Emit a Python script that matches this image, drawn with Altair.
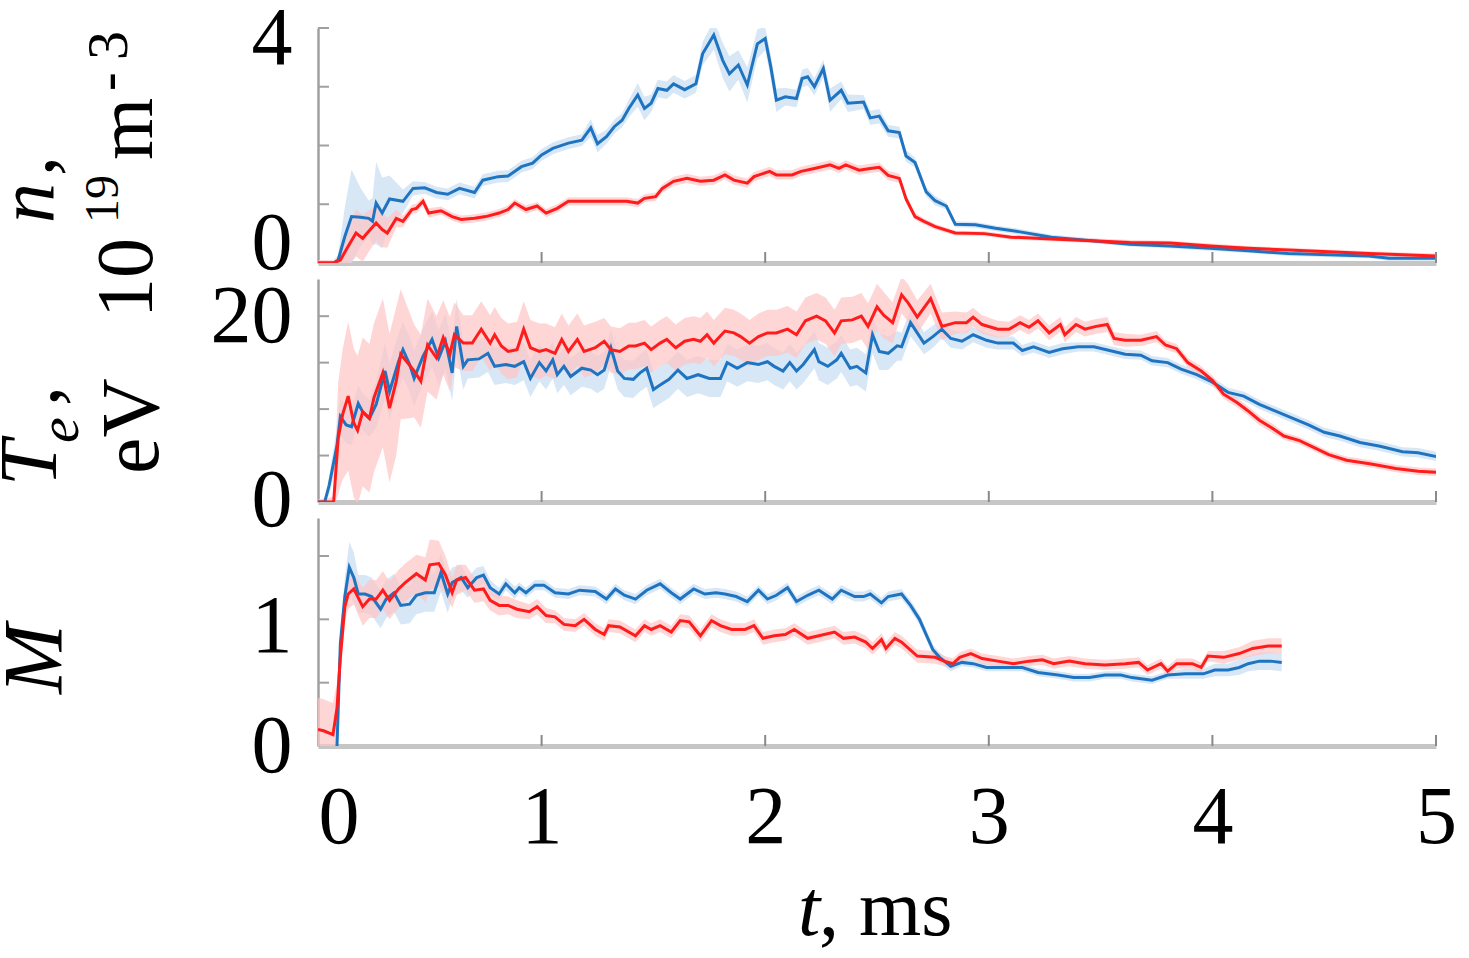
import altair as alt
import pandas as pd

FONT = "Liberation Serif"
BLUE = "#1f74c2"
RED = "#ff1c1c"
BLUE_BAND = "#c9dff3"
RED_BAND = "#ffc4c4"

X_TICKS = [1, 2, 3, 4, 5]
X_LABELS = [0, 1, 2, 3, 4, 5]

# ---------------- panel 1: density n (1e19 m^-3) ----------------
T_N_BLUE = [0, 0.07, 0.09, 0.12, 0.15, 0.19, 0.227, 0.244, 0.26, 0.287,
            0.32, 0.38, 0.425, 0.477, 0.53, 0.58, 0.633, 0.70, 0.737, 0.806,
            0.85, 0.91, 0.96, 1.0, 1.05, 1.12, 1.18, 1.22, 1.25, 1.29,
            1.325, 1.36, 1.39, 1.43, 1.46, 1.49, 1.52, 1.56, 1.59, 1.64,
            1.69, 1.72, 1.77, 1.81, 1.84, 1.88, 1.92, 1.965, 2.0, 2.025,
            2.05, 2.09, 2.14, 2.165, 2.19, 2.22, 2.26, 2.29, 2.34, 2.37,
            2.44, 2.47, 2.51, 2.55, 2.6, 2.63, 2.67, 2.72, 2.76, 2.81,
            2.85, 2.94, 3.03, 3.14, 3.28, 3.46, 3.63, 3.81, 3.99, 4.16,
            4.34, 4.52, 4.70, 4.79, 5.0]
N_BLUE = [0, 0, 0.05, 0.45, 0.79, 0.78, 0.76, 0.71, 1.02, 0.85,
          1.09, 1.05, 1.27, 1.28, 1.20, 1.17, 1.27, 1.20, 1.41, 1.47,
          1.48, 1.64, 1.70, 1.84, 1.95, 2.04, 2.09, 2.30, 2.03, 2.15,
          2.32, 2.43, 2.63, 2.86, 2.63, 2.72, 2.97, 2.94, 3.05, 2.95,
          3.05, 3.56, 3.88, 3.45, 3.22, 3.37, 3.03, 3.73, 3.82, 3.34,
          2.77, 2.83, 2.80, 3.14, 3.17, 3.00, 3.31, 2.77, 2.94, 2.72,
          2.74, 2.47, 2.50, 2.25, 2.22, 1.82, 1.71, 1.21, 1.06, 0.97,
          0.66, 0.65, 0.59, 0.53, 0.44, 0.38, 0.32, 0.29, 0.25, 0.21,
          0.16, 0.14, 0.12, 0.08, 0.08]
N_BLUE_ERR = [0, 0, 0.1, 0.5, 0.8, 0.5, 0.3, 0.4, 0.7, 0.6,
              0.4, 0.2, 0.12, 0.1, 0.1, 0.1, 0.1, 0.1, 0.1, 0.1,
              0.1, 0.1, 0.1, 0.1, 0.1, 0.1, 0.1, 0.15, 0.15, 0.12,
              0.12, 0.12, 0.15, 0.2, 0.2, 0.15, 0.15, 0.15, 0.15, 0.15,
              0.15, 0.2, 0.25, 0.3, 0.3, 0.25, 0.3, 0.25, 0.2, 0.2,
              0.2, 0.15, 0.15, 0.15, 0.15, 0.15, 0.15, 0.2, 0.15, 0.15,
              0.12, 0.12, 0.12, 0.1, 0.1, 0.1, 0.08, 0.08, 0.08, 0.06,
              0.05, 0.05, 0.05, 0.05, 0.04, 0.04, 0.04, 0.04, 0.04, 0.04,
              0.04, 0.04, 0.04, 0.04, 0.04]

T_N_RED = [0, 0.07, 0.1, 0.13, 0.17, 0.2, 0.227, 0.26, 0.287, 0.31,
           0.35, 0.38, 0.42, 0.44, 0.47, 0.495, 0.55, 0.6, 0.64, 0.70,
           0.75, 0.81, 0.85, 0.88, 0.93, 0.98, 1.02, 1.07, 1.12, 1.20,
           1.29, 1.38, 1.43, 1.46, 1.51, 1.54, 1.59, 1.65, 1.71, 1.77,
           1.82, 1.86, 1.92, 1.95, 2.02, 2.05, 2.12, 2.16, 2.22, 2.29,
           2.33, 2.36, 2.42, 2.47, 2.51, 2.55, 2.60, 2.63, 2.67, 2.71,
           2.76, 2.85, 2.98, 3.1, 3.28, 3.46, 3.63, 3.81, 3.99, 4.16,
           4.34, 4.52, 4.70, 5.0]
N_RED = [0, 0, 0.05, 0.25, 0.51, 0.42, 0.54, 0.68, 0.57, 0.51,
         0.76, 0.71, 0.91, 0.93, 1.05, 0.85, 0.89, 0.79, 0.74, 0.76,
         0.79, 0.85, 0.91, 1.02, 0.91, 0.97, 0.85, 0.93, 1.05, 1.05,
         1.05, 1.05, 1.02, 1.10, 1.13, 1.27, 1.39, 1.44, 1.39, 1.41,
         1.50, 1.41, 1.36, 1.47, 1.56, 1.50, 1.50, 1.56, 1.61, 1.67,
         1.61, 1.67, 1.58, 1.61, 1.63, 1.49, 1.44, 1.09, 0.79, 0.71,
         0.62, 0.51, 0.50, 0.44, 0.41, 0.38, 0.35, 0.34, 0.29, 0.25,
         0.22, 0.19, 0.16, 0.12]
N_RED_ERR = [0.05, 0.05, 0.1, 0.3, 0.4, 0.4, 0.35, 0.3, 0.3, 0.25,
             0.15, 0.1, 0.08, 0.08, 0.08, 0.08, 0.07, 0.07, 0.07, 0.07,
             0.07, 0.07, 0.07, 0.07, 0.07, 0.07, 0.07, 0.07, 0.07, 0.07,
             0.07, 0.07, 0.07, 0.07, 0.07, 0.07, 0.08, 0.08, 0.08, 0.08,
             0.08, 0.08, 0.08, 0.08, 0.08, 0.08, 0.08, 0.08, 0.08, 0.08,
             0.08, 0.08, 0.08, 0.08, 0.08, 0.08, 0.08, 0.07, 0.06, 0.05,
             0.05, 0.04, 0.04, 0.04, 0.04, 0.04, 0.04, 0.04, 0.04, 0.04,
             0.04, 0.04, 0.04, 0.04]

# ---------------- panel 2: electron temperature Te (eV) ----------------
T_TE_BLUE = [0, 0.03, 0.05, 0.085, 0.10, 0.126, 0.15, 0.18, 0.20, 0.23,
             0.26, 0.30, 0.32, 0.36, 0.38, 0.41, 0.43, 0.47, 0.51, 0.54,
             0.57, 0.60, 0.62, 0.65, 0.67, 0.72, 0.76, 0.79, 0.84, 0.88,
             0.92, 0.95, 0.99, 1.02, 1.05, 1.07, 1.10, 1.13, 1.18, 1.22,
             1.25, 1.28, 1.31, 1.34, 1.37, 1.41, 1.44, 1.47, 1.50, 1.53,
             1.57, 1.61, 1.65, 1.70, 1.75, 1.80, 1.83, 1.875, 1.92, 1.97,
             2.01, 2.04, 2.08, 2.11, 2.14, 2.17, 2.22, 2.24, 2.28, 2.32,
             2.34, 2.38, 2.41, 2.45, 2.48, 2.51, 2.55, 2.59, 2.61, 2.65,
             2.68, 2.71, 2.75, 2.79, 2.83, 2.88, 2.93, 2.99, 3.04, 3.11,
             3.15, 3.20, 3.27, 3.33, 3.40, 3.47, 3.54, 3.61, 3.68, 3.73,
             3.80, 3.86, 3.93, 4.0, 4.07, 4.14, 4.21, 4.28, 4.36, 4.43,
             4.50, 4.57, 4.66, 4.75, 4.85, 4.92, 5.0]
TE_BLUE = [0, 0, 1.8, 6.1, 9.2, 8.3, 8.1, 10.6, 9.7, 9.0,
           10.5, 14.1, 11.9, 15.1, 16.4, 14.8, 13.3, 15.7, 17.5, 15.5,
           17.3, 13.9, 18.9, 14.6, 15.3, 15.4, 16.0, 14.6, 14.8, 14.6,
           15.1, 13.3, 15.0, 14.1, 15.3, 13.7, 14.6, 13.5, 14.4, 14.2,
           13.7, 14.2, 16.6, 14.1, 13.3, 13.2, 13.9, 14.4, 12.1, 12.6,
           13.2, 14.2, 13.3, 13.7, 13.3, 13.3, 15.0, 14.4, 15.0, 14.8,
           15.1, 14.6, 14.1, 15.0, 14.1, 14.8, 16.4, 15.1, 14.6, 15.3,
           16.0, 14.4, 14.6, 13.9, 18.0, 16.2, 16.0, 16.8, 16.7, 19.3,
           18.2, 17.1, 17.8, 18.6, 17.6, 17.3, 18.0, 17.4, 17.1, 17.1,
           16.3, 16.7, 16.1, 16.5, 16.7, 16.7, 16.3, 15.9, 15.8, 15.2,
           15.0, 14.3, 13.7, 12.9, 11.8, 11.4, 10.5, 9.8, 9.0, 8.3,
           7.5, 7.1, 6.4, 6.0, 5.4, 5.3, 4.9]
TE_BLUE_ERR = [0, 0, 1, 2, 2, 2, 2, 2, 2, 2,
               2.5, 3, 3, 3, 3, 3, 3, 3, 3, 3,
               3, 3, 3, 2.5, 2, 2, 2, 2, 2, 2,
               2, 2, 2, 2, 2, 2, 2, 2, 2, 2,
               2, 2, 2, 2, 2, 2, 2, 2, 2, 2,
               2, 2, 2, 2, 2, 2, 2, 2, 2, 2,
               2, 2, 2, 2, 2, 2, 2, 2, 2, 2,
               2, 2, 2, 2, 2, 2, 1.8, 1.6, 1.5, 1.5,
               1.3, 1.2, 1.2, 1.0, 1.0, 0.9, 0.8, 0.8, 0.7, 0.7,
               0.6, 0.6, 0.6, 0.6, 0.5, 0.5, 0.5, 0.5, 0.5, 0.5,
               0.5, 0.5, 0.5, 0.5, 0.5, 0.5, 0.5, 0.5, 0.5, 0.5,
               0.5, 0.5, 0.5, 0.5, 0.5, 0.5, 0.5]

T_TE_RED = [0, 0.07, 0.09, 0.11, 0.135, 0.16, 0.177, 0.20, 0.23, 0.25,
            0.29, 0.32, 0.35, 0.37, 0.40, 0.43, 0.46, 0.49, 0.53, 0.56,
            0.59, 0.61, 0.65, 0.69, 0.73, 0.77, 0.79, 0.82, 0.85, 0.89,
            0.92, 0.95, 0.99, 1.02, 1.06, 1.09, 1.12, 1.16, 1.19, 1.24,
            1.28, 1.31, 1.35, 1.39, 1.42, 1.46, 1.49, 1.53, 1.56, 1.60,
            1.64, 1.68, 1.71, 1.74, 1.77, 1.82, 1.86, 1.89, 1.93, 1.97,
            2.01, 2.05, 2.10, 2.14, 2.18, 2.23, 2.27, 2.31, 2.34, 2.39,
            2.43, 2.46, 2.50, 2.53, 2.57, 2.61, 2.64, 2.68, 2.74, 2.79,
            2.85, 2.90, 2.93, 2.97, 3.04, 3.09, 3.14, 3.18, 3.22, 3.27,
            3.32, 3.34, 3.39, 3.43, 3.48, 3.53, 3.56, 3.61, 3.68, 3.75,
            3.79, 3.84, 3.89, 3.95, 4.0, 4.05, 4.11, 4.16, 4.21, 4.27,
            4.32, 4.39, 4.46, 4.52, 4.60, 4.71, 4.82, 4.92, 5.0]
TE_RED = [0, 0, 6.8, 9.4, 11.4, 8.5, 7.7, 9.7, 9.0, 11.2,
          13.9, 10.1, 13.0, 15.9, 15.0, 14.1, 13.0, 16.9, 15.5, 17.7,
          15.9, 18.0, 17.1, 17.1, 18.6, 17.1, 18.0, 16.8, 16.2, 16.4,
          18.6, 16.6, 16.2, 16.4, 16.0, 17.5, 16.2, 17.5, 16.2, 16.6,
          17.3, 16.4, 16.2, 16.8, 16.8, 17.1, 16.4, 17.1, 17.5, 16.6,
          17.3, 17.5, 17.3, 18.0, 17.1, 18.4, 18.2, 17.8, 17.1, 17.8,
          18.2, 18.2, 18.6, 18.0, 19.5, 20.0, 19.5, 18.2, 19.5, 19.6,
          20.0, 18.9, 21.0, 20.1, 19.3, 22.3, 21.4, 19.9, 21.9, 18.9,
          19.3, 19.3, 19.9, 19.1, 18.6, 18.6, 19.3, 18.8, 19.5, 18.2,
          19.1, 18.0, 19.1, 18.6, 18.9, 19.1, 17.6, 17.4, 17.4, 17.8,
          16.9, 16.5, 15.0, 14.1, 13.1, 11.6, 10.7, 9.8, 8.8, 7.9,
          7.1, 6.6, 5.8, 5.1, 4.5, 4.1, 3.6, 3.3, 3.2]
TE_RED_ERR = [0.3, 0.5, 6, 7, 8, 8, 8, 8, 8, 8,
              8, 8, 8, 7, 6, 5, 5, 5, 4.5, 4,
              4, 3.5, 3, 3, 3, 3, 3, 3, 3, 3,
              3, 3, 3, 2.8, 2.8, 2.8, 2.8, 2.8, 2.8, 2.8,
              2.5, 2.5, 2.5, 2.5, 2.5, 2.5, 2.5, 2.5, 2.5, 2.5,
              2.5, 2.5, 2.5, 2.5, 2.5, 2.5, 2.5, 2.5, 2.5, 2.5,
              2.5, 2.5, 2.5, 2.5, 2.5, 2.5, 2.5, 2.5, 2.5, 2.5,
              2.5, 2.5, 2.5, 2.5, 2.2, 2, 2, 1.8, 1.6, 1.5,
              1.2, 1.1, 1.0, 1.0, 0.9, 0.8, 0.8, 0.8, 0.8, 0.8,
              0.8, 0.8, 0.8, 0.8, 0.8, 0.8, 0.7, 0.7, 0.6, 0.6,
              0.5, 0.5, 0.5, 0.5, 0.5, 0.5, 0.5, 0.5, 0.5, 0.5,
              0.4, 0.4, 0.4, 0.4, 0.4, 0.4, 0.4, 0.4, 0.4]

# ---------------- panel 3: Mach number M ----------------
T_M_BLUE = [0.085, 0.10, 0.12, 0.14, 0.16, 0.18, 0.21, 0.24, 0.28, 0.305,
            0.34, 0.37, 0.41, 0.44, 0.48, 0.52, 0.55, 0.58, 0.60, 0.64,
            0.67, 0.71, 0.74, 0.77, 0.81, 0.84, 0.88, 0.90, 0.93, 0.97,
            1.01, 1.06, 1.12, 1.17, 1.24, 1.29, 1.33, 1.37, 1.42, 1.47,
            1.53, 1.58, 1.62, 1.68, 1.73, 1.78, 1.82, 1.87, 1.92, 1.97,
            2.01, 2.05, 2.10, 2.14, 2.19, 2.24, 2.30, 2.34, 2.40, 2.44,
            2.47, 2.52, 2.55, 2.61, 2.65, 2.69, 2.72, 2.75, 2.78, 2.83,
            2.88, 2.93, 2.99, 3.08, 3.15, 3.22, 3.31, 3.38, 3.45, 3.52,
            3.59, 3.64, 3.73, 3.80, 3.88, 3.96, 4.01, 4.07, 4.12, 4.16,
            4.21, 4.26, 4.31]
M_BLUE = [0, 0.81, 1.18, 1.41, 1.33, 1.20, 1.20, 1.18, 1.08, 1.16,
          1.21, 1.11, 1.12, 1.19, 1.21, 1.21, 1.37, 1.20, 1.29, 1.33,
          1.25, 1.33, 1.35, 1.25, 1.20, 1.28, 1.21, 1.25, 1.21, 1.27,
          1.27, 1.21, 1.20, 1.23, 1.22, 1.16, 1.24, 1.19, 1.16, 1.23,
          1.28, 1.21, 1.16, 1.24, 1.20, 1.21, 1.20, 1.18, 1.14, 1.23,
          1.16, 1.19, 1.25, 1.14, 1.19, 1.23, 1.16, 1.23, 1.18, 1.18,
          1.20, 1.13, 1.18, 1.20, 1.11, 1.00, 0.88, 0.76, 0.70, 0.63,
          0.66, 0.65, 0.62, 0.62, 0.62, 0.58, 0.56, 0.54, 0.54, 0.56,
          0.56, 0.54, 0.52, 0.56, 0.57, 0.57, 0.60, 0.60, 0.62, 0.65,
          0.67, 0.67, 0.66]
M_BLUE_ERR = [0.05, 0.1, 0.15, 0.2, 0.2, 0.15, 0.15, 0.15, 0.15, 0.15,
              0.15, 0.15, 0.15, 0.15, 0.15, 0.15, 0.15, 0.15, 0.12, 0.1,
              0.08, 0.08, 0.07, 0.06, 0.05, 0.05, 0.05, 0.04, 0.04, 0.04,
              0.04, 0.04, 0.04, 0.04, 0.04, 0.04, 0.04, 0.04, 0.04, 0.04,
              0.04, 0.04, 0.04, 0.04, 0.04, 0.04, 0.04, 0.04, 0.04, 0.04,
              0.04, 0.04, 0.04, 0.04, 0.04, 0.04, 0.04, 0.04, 0.04, 0.04,
              0.04, 0.04, 0.04, 0.04, 0.04, 0.04, 0.04, 0.04, 0.04, 0.04,
              0.03, 0.03, 0.03, 0.03, 0.03, 0.03, 0.03, 0.03, 0.03, 0.03,
              0.03, 0.03, 0.03, 0.03, 0.04, 0.04, 0.05, 0.05, 0.06, 0.06,
              0.07, 0.07, 0.07]

T_M_RED = [0, 0.025, 0.067, 0.085, 0.10, 0.12, 0.135, 0.16, 0.20, 0.23,
           0.26, 0.29, 0.32, 0.36, 0.39, 0.44, 0.48, 0.50, 0.54, 0.57,
           0.60, 0.62, 0.66, 0.70, 0.74, 0.77, 0.81, 0.85, 0.89, 0.945,
           0.98, 1.02, 1.06, 1.10, 1.15, 1.19, 1.24, 1.28, 1.30, 1.35,
           1.42, 1.46, 1.49, 1.53, 1.58, 1.62, 1.66, 1.71, 1.76, 1.80,
           1.85, 1.91, 1.95, 1.99, 2.04, 2.09, 2.13, 2.19, 2.24, 2.31,
           2.35, 2.40, 2.45, 2.48, 2.52, 2.54, 2.58, 2.61, 2.68, 2.76,
           2.80, 2.84, 2.87, 2.92, 2.97, 3.04, 3.11, 3.18, 3.24, 3.29,
           3.36, 3.43, 3.52, 3.61, 3.67, 3.71, 3.77, 3.80, 3.84, 3.91,
           3.95, 3.98, 4.05, 4.12, 4.18, 4.25, 4.31]
M_RED = [0.13, 0.12, 0.09, 0.30, 0.70, 1.10, 1.20, 1.24, 1.10, 1.16,
         1.16, 1.23, 1.15, 1.24, 1.29, 1.36, 1.31, 1.43, 1.44, 1.35,
         1.21, 1.31, 1.33, 1.23, 1.24, 1.15, 1.11, 1.11, 1.08, 1.06,
         1.10, 1.03, 1.02, 0.96, 0.95, 1.00, 0.92, 0.88, 0.95, 0.94,
         0.87, 0.95, 0.92, 0.95, 0.90, 0.99, 0.98, 0.87, 0.99, 0.95,
         0.92, 0.92, 0.95, 0.85, 0.87, 0.88, 0.92, 0.85, 0.87, 0.90,
         0.85, 0.86, 0.82, 0.77, 0.84, 0.77, 0.85, 0.82, 0.71, 0.70,
         0.67, 0.65, 0.70, 0.73, 0.69, 0.67, 0.65, 0.67, 0.68, 0.65,
         0.67, 0.65, 0.64, 0.65, 0.66, 0.60, 0.65, 0.59, 0.65, 0.65,
         0.62, 0.71, 0.70, 0.73, 0.77, 0.79, 0.79]
M_RED_ERR = [0.25, 0.25, 0.25, 0.2, 0.15, 0.12, 0.12, 0.12, 0.15, 0.15,
             0.15, 0.15, 0.15, 0.15, 0.15, 0.15, 0.18, 0.2, 0.18, 0.15,
             0.12, 0.12, 0.1, 0.1, 0.1, 0.08, 0.08, 0.07, 0.07, 0.06,
             0.06, 0.06, 0.05, 0.05, 0.05, 0.05, 0.05, 0.05, 0.05, 0.05,
             0.05, 0.05, 0.05, 0.05, 0.05, 0.05, 0.05, 0.05, 0.05, 0.05,
             0.05, 0.05, 0.05, 0.05, 0.05, 0.05, 0.05, 0.05, 0.05, 0.05,
             0.05, 0.05, 0.05, 0.05, 0.05, 0.05, 0.05, 0.05, 0.05, 0.05,
             0.04, 0.04, 0.04, 0.04, 0.04, 0.04, 0.04, 0.04, 0.04, 0.04,
             0.04, 0.04, 0.04, 0.04, 0.04, 0.04, 0.04, 0.04, 0.04, 0.04,
             0.04, 0.04, 0.05, 0.05, 0.06, 0.06, 0.06]


def band_df(t, v, e):
    return pd.DataFrame({"t": t,
                         "lo": [a - b for a, b in zip(v, e)],
                         "hi": [a + b for a, b in zip(v, e)]})


def line_df(t, v):
    return pd.DataFrame({"t": t, "v": v})


def text_piece(s, x, y, size, style="normal", angle=270):
    return alt.Chart(pd.DataFrame({"s": [s]})).mark_text(
        angle=angle, align="left", baseline="alphabetic", font=FONT,
        fontSize=size, fontStyle=style, color="black"
    ).encode(text="s:N", x=alt.value(x), y=alt.value(y))


def make_panel(height, ydom, ylabels, yticks, series, off0, offo, titles, show_x):
    xscale = alt.Scale(domain=[0, 5], nice=False, zero=False)
    yscale = alt.Scale(domain=ydom, nice=False, zero=False)
    xaxis = alt.Axis(values=X_LABELS, title=None, grid=False, ticks=False, tickSize=0,
                     domainColor="#c6c6c6", domainWidth=5, labels=show_x,
                     labelFont=FONT, labelFontSize=82, labelColor="black",
                     labelPadding=31, labelFlush=False, labelOverlap=False,
                     labelAlign={"condition": {"test": "datum.value == 0", "value": "left"},
                                 "value": "center"})
    yaxis = alt.Axis(values=ylabels, title=None, grid=False, ticks=False, tickSize=0,
                     domainColor="#a0a0a0", domainWidth=2.5,
                     labelFont=FONT, labelFontSize=82, labelColor="black",
                     labelPadding=26, labelOverlap=False,
                     labelOffset={"condition": {"test": "datum.value == 0", "value": off0},
                                  "value": offo})
    layers = []
    for t, v, e, lc, bc, bo in series:
        layers.append(
            alt.Chart(band_df(t, v, e)).mark_area(color=bc, opacity=bo, clip=True).encode(
                x=alt.X("t:Q", scale=xscale, axis=xaxis),
                y=alt.Y("lo:Q", scale=yscale, axis=yaxis),
                y2="hi:Q"))
    for t, v, e, lc, bc, bo in series:
        layers.append(
            alt.Chart(line_df(t, v)).mark_line(color=lc, strokeWidth=3, clip=True).encode(
                x=alt.X("t:Q", scale=xscale, axis=xaxis),
                y=alt.Y("v:Q", scale=yscale, axis=yaxis)))
    layers.append(
        alt.Chart(pd.DataFrame({"v": yticks})).mark_rule(color="#a0a0a0", strokeWidth=2).encode(
            y=alt.Y("v:Q", scale=yscale, axis=yaxis), x=alt.value(0), x2=alt.value(11)))
    layers.append(
        alt.Chart(pd.DataFrame({"t": X_TICKS})).mark_rule(color="#8a8a8a", strokeWidth=2).encode(
            x=alt.X("t:Q", scale=xscale, axis=xaxis), y=alt.value(height), y2=alt.value(height - 11)))
    layers.extend(titles)
    return alt.layer(*layers).properties(width=1118, height=height)


p1 = make_panel(
    235, [0, 4], [0, 4], [1, 2, 3, 4],
    [(T_N_BLUE, N_BLUE, N_BLUE_ERR, BLUE, BLUE_BAND, 0.75),
     (T_N_RED, N_RED, N_RED_ERR, RED, RED_BAND, 0.7)],
    -20, 10,
    [text_piece("n", -265, 195, 80, "italic"),
     text_piece(",", -265, 148, 80),
     text_piece("10", -166, 290, 80),
     text_piece("19", -200, 195, 48),
     text_piece("m", -166, 132, 80),
     text_piece("-", -192, 63, 56),
     text_piece("3", -191, 32, 58)],
    False)

p2 = make_panel(
    223, [0, 24], [0, 20], [5, 10, 15, 20],
    [(T_TE_BLUE, TE_BLUE, TE_BLUE_ERR, BLUE, BLUE_BAND, 0.75),
     (T_TE_RED, TE_RED, TE_RED_ERR, RED, RED_BAND, 0.7)],
    -2, 0,
    [text_piece("T", -262, 207, 82, "italic"),
     text_piece("e", -240, 164, 58, "italic"),
     text_piece(",", -260, 127, 80),
     text_piece("eV", -160, 195, 82)],
    False)

p3 = make_panel(
    228, [0, 1.8], [0, 1], [0.5, 1, 1.5],
    [(T_M_BLUE, M_BLUE, M_BLUE_ERR, BLUE, BLUE_BAND, 0.75),
     (T_M_RED, M_RED, M_RED_ERR, RED, RED_BAND, 0.7)],
    0, 7,
    [text_piece("M", -256, 176, 84, "italic"),
     text_piece("t", 480, 417, 80, "italic", angle=0),
     text_piece(", ms", 501, 417, 80, "normal", angle=0)],
    True)

chart = alt.vconcat(p1, p2, p3, spacing=16, bounds="flush").properties(
    padding={"left": -11, "top": -3, "right": 0, "bottom": 0},
    background="white",
).configure_view(stroke=None)

chart.save("out.html", embed_options={"renderer": "svg", "actions": False})
